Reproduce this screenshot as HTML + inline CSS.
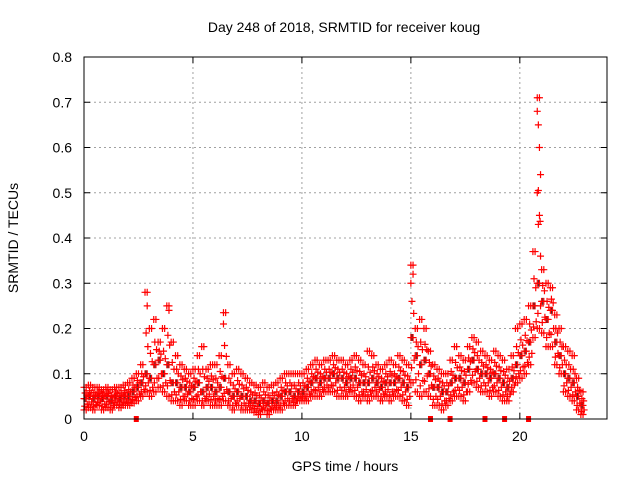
<!DOCTYPE html>
<html><head><meta charset="utf-8"><style>
body{margin:0;background:#fff}
svg{display:block;font-family:"Liberation Sans",sans-serif}
</style></head><body>
<svg id="chart" width="640" height="480" viewBox="0 0 640 480" xmlns="http://www.w3.org/2000/svg">
<text x="344" y="32" font-size="14" text-anchor="middle" fill="#000">Day 248 of 2018, SRMTID for receiver koug</text>
<text transform="translate(18,238) rotate(-90)" font-size="14" text-anchor="middle">SRMTID / TECUs</text>
<text x="345" y="471" font-size="14" text-anchor="middle">GPS time / hours</text>
<g id="grid"></g>
<g id="marks"></g>
<rect x="84" y="57" width="523" height="362" fill="none" stroke="#000" stroke-width="1"/>
<g id="ticks"></g>
</svg>
<script>
const xTicks=[0,5,10,15,20];
const yTicks=[0,0.1,0.2,0.3,0.4,0.5,0.6,0.7,0.8];
const yTickLabels=["0","0.1","0.2","0.3","0.4","0.5","0.6","0.7","0.8"];
const sampleStep=0.2;
const loVals=[0.02,0.025,0.02,0.03,0.02,0.025,0.02,0.03,0.025,0.03,
0.03,0.035,0.04,0.05,0.06,0.05,0.06,0.07,0.06,0.05,
0.04,0.04,0.03,0.04,0.03,0.03,0.04,0.03,0.04,0.03,
0.03,0.03,0.04,0.03,0.02,0.03,0.02,0.02,0.02,0.015,
0.01,0.02,0.01,0.02,0.02,0.02,0.03,0.03,0.03,0.04,
0.04,0.04,0.05,0.05,0.05,0.06,0.06,0.06,0.05,0.05,
0.05,0.06,0.05,0.04,0.05,0.04,0.05,0.05,0.04,0.05,
0.04,0.05,0.05,0.04,0.03,0.08,0.06,0.05,0.06,0.05,
0.03,0.03,0.02,0.03,0.04,0.05,0.05,0.04,0.06,0.08,
0.07,0.06,0.06,0.05,0.06,0.05,0.04,0.04,0.06,0.08,
0.09,0.1,0.12,0.18,0.2,0.19,0.16,0.16,0.12,0.1,
0.06,0.05,0.04,0.02,0.01];
const midVals=[0.045,0.05,0.045,0.05,0.045,0.05,0.04,0.05,0.045,0.05,
0.05,0.06,0.07,0.08,0.1,0.09,0.12,0.13,0.1,0.12,
0.08,0.08,0.07,0.07,0.06,0.07,0.08,0.06,0.07,0.07,
0.06,0.07,0.09,0.06,0.05,0.06,0.05,0.05,0.04,0.04,
0.035,0.04,0.035,0.04,0.04,0.05,0.06,0.06,0.05,0.06,
0.06,0.07,0.08,0.09,0.08,0.09,0.09,0.1,0.09,0.09,
0.08,0.09,0.09,0.08,0.08,0.08,0.09,0.08,0.07,0.08,
0.08,0.08,0.09,0.08,0.07,0.18,0.14,0.12,0.13,0.1,
0.07,0.07,0.06,0.06,0.08,0.09,0.09,0.08,0.11,0.13,
0.11,0.1,0.1,0.09,0.1,0.09,0.08,0.07,0.09,0.12,
0.14,0.15,0.17,0.25,0.3,0.26,0.22,0.24,0.17,0.14,
0.1,0.09,0.08,0.05,0.03];
const hiVals=[0.07,0.075,0.07,0.07,0.065,0.07,0.065,0.07,0.07,0.075,
0.08,0.09,0.1,0.12,0.28,0.2,0.22,0.17,0.2,0.25,
0.17,0.14,0.12,0.11,0.1,0.11,0.14,0.16,0.11,0.12,
0.12,0.14,0.235,0.12,0.1,0.11,0.1,0.09,0.08,0.075,
0.07,0.08,0.07,0.075,0.08,0.09,0.1,0.1,0.1,0.1,
0.1,0.11,0.12,0.13,0.12,0.13,0.13,0.14,0.13,0.13,
0.12,0.13,0.14,0.13,0.12,0.15,0.14,0.12,0.11,0.12,
0.13,0.12,0.14,0.13,0.12,0.34,0.2,0.22,0.2,0.15,
0.12,0.11,0.1,0.1,0.13,0.16,0.14,0.13,0.16,0.18,
0.17,0.15,0.14,0.13,0.15,0.14,0.13,0.11,0.14,0.2,
0.21,0.22,0.25,0.37,0.71,0.33,0.3,0.29,0.23,0.2,
0.16,0.15,0.14,0.09,0.06];
const peakTimes=[20.8,20.85,20.9,20.95,20.8,20.9,20.85,20.95,15.0,15.1,2.9,6.4,3.9];
const peakVals=[0.68,0.65,0.6,0.54,0.5,0.45,0.43,0.36,0.3,0.32,0.25,0.21,0.24];
const zeroTimes=[2.4,15.9,16.8,18.4,19.3,20.4];

const NS="http://www.w3.org/2000/svg";
const X0=84,X1=607,Y0=419,Y1=57,XMAX=24,YMAX=0.8;
function xs(t){return X0+(X1-X0)*t/XMAX;}
function ys(v){return Y0-(Y0-Y1)*v/YMAX;}
function mk(tag,attrs,parent){const e=document.createElementNS(NS,tag);for(const k in attrs)e.setAttribute(k,attrs[k]);parent.appendChild(e);return e;}
const grid=document.getElementById('grid'),marks=document.getElementById('marks'),ticks=document.getElementById('ticks');
xTicks.forEach(t=>{
 if(t>0){const g=mk('line',{x1:xs(t),x2:xs(t),y1:Y0,y2:Y1,stroke:'#a0a0a0','stroke-dasharray':'2,3'},grid);
 
 }
 const tk=mk('path',{d:`M${xs(t)},${Y0}v-6M${xs(t)},${Y1}v6`,stroke:'#000'},ticks);
 
 
 const l=mk('text',{x:xs(t),y:Y0+22,'font-size':14,'text-anchor':'middle'},ticks);l.textContent=String(t);
 
 
});
yTicks.forEach((v,i)=>{
 if(v>0&&v<YMAX){const g=mk('line',{x1:X0,x2:X1,y1:ys(v),y2:ys(v),stroke:'#a0a0a0','stroke-dasharray':'2,3'},grid);
 
 }
 const tk=mk('path',{d:`M${X0},${ys(v)}h6M${X1},${ys(v)}h-6`,stroke:'#000'},ticks);
 
 
 const l=mk('text',{x:X0-12,y:ys(v)+5,'font-size':14,'text-anchor':'end'},ticks);l.textContent=yTickLabels[i];
 
 
});
function cross(t,v,col){
 const x=xs(t),y=ys(v);
 const p=mk('path',{d:`M${x-3.5},${y}h7M${x},${y-3.5}v7`,stroke:col,'stroke-width':1.2,fill:'none'},marks);
 
 
}
midVals.forEach((v,i)=>cross(i*sampleStep+0.05,v,'#333'));
[loVals,midVals,hiVals].forEach(arr=>arr.forEach((v,i)=>{cross(i*sampleStep,v,'#f00');cross(i*sampleStep+0.1,v,'#f00');}));
loVals.forEach((v,i)=>{cross(i*sampleStep+0.15,(v+midVals[i])/2,'#f00');cross(i*sampleStep+0.03,(v*2+midVals[i])/3,'#f00');});
midVals.forEach((v,i)=>{cross(i*sampleStep+0.05,(v+hiVals[i])/2,'#f00');cross(i*sampleStep+0.13,(v*2+hiVals[i])/3,'#f00');});
peakTimes.forEach((t,i)=>cross(t,peakVals[i],'#f00'));
zeroTimes.forEach(t=>{const r=mk('rect',{x:xs(t)-2.5,y:Y0-3,width:5,height:6,fill:'#f00'},marks);
 
 });
</script>
</body></html>
